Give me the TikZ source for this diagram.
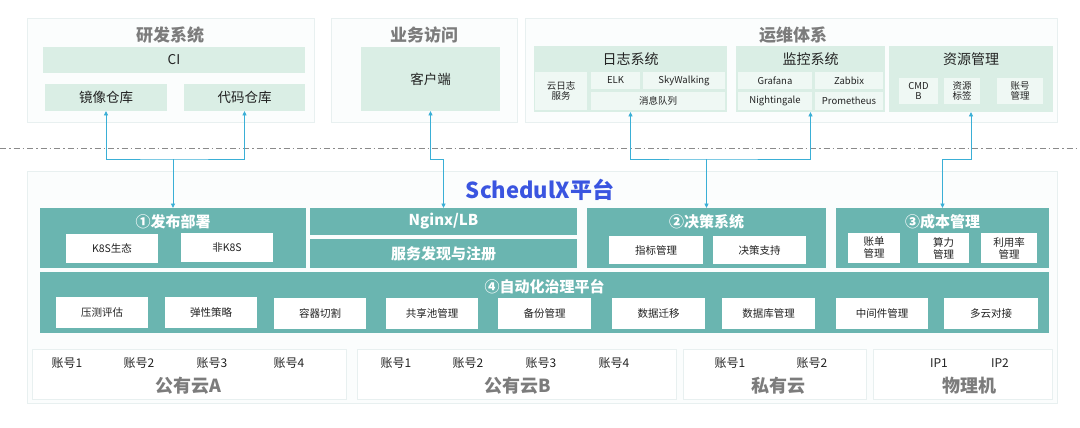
\documentclass[tikz,border=0pt]{standalone}
\usepackage{fontspec}
\setmainfont{Noto Sans CJK SC}
\usetikzlibrary{arrows.meta}
\definecolor{teal1}{HTML}{6AB5B0}
\definecolor{mint}{HTML}{DAEEE5}
\definecolor{mintl}{HTML}{EFF8F4}
\definecolor{panelf}{HTML}{FBFDFD}
\definecolor{paneld}{HTML}{E8F0F0}
\definecolor{ttlgray}{HTML}{7C7C7C}
\definecolor{sblue}{HTML}{3A55E0}
\definecolor{conncol}{HTML}{3AAFD6}
\definecolor{txt}{HTML}{222222}
\definecolor{dashcol}{HTML}{8A8A8A}
\newcommand\mybox[7]{\node[#2, minimum width=#5pt-#3pt, minimum height=#6pt-#4pt] (#1) at ({(#3+#5)/2},{(#4+#6)/2}) {#7};}
\tikzset{
  base/.style={inner sep=0pt, outer sep=0pt},
  panel/.style={base, draw=paneld, fill=panelf, line width=0.8pt},
  subpanel/.style={base, draw=paneld, fill=white, line width=0.8pt},
  mintbox/.style={base, fill=mint, text=txt, font=\fontsize{13.5}{15}\selectfont},
  subl/.style={base, fill=mintl, text=txt, align=center, font=\fontsize{9.5}{10.5}\selectfont},
  tealbox/.style={base, fill=teal1, text=white, font=\bfseries\fontsize{15}{17}\selectfont},
  whitebox/.style={base, fill=white, text=txt, align=center, font=\fontsize{10.5}{12}\selectfont},
  ptitle/.style={base, text=ttlgray, font=\bfseries\fontsize{17}{19}\selectfont},
  stitle/.style={base, text=txt, font=\fontsize{14}{16}\selectfont},
  mtitle/.style={base, text=white, font=\bfseries\fontsize{15}{17}\selectfont},
  acc/.style={base, text=txt, font=\fontsize{12}{14}\selectfont},
  cloud/.style={base, text=ttlgray, font=\bfseries\fontsize{18}{20}\selectfont},
  conn/.style={draw=conncol, line width=0.9pt},
  sep/.style={draw=dashcol, line width=1pt, dash pattern=on 6pt off 3pt on 1.5pt off 3pt},
  tri/.tip={Triangle[length=4.5pt,width=4pt]}
}
\begin{document}
\begin{tikzpicture}[x=1pt,y=-1pt]
\useasboundingbox (0,0) rectangle (1080,428);
\fill[white] (0,0) rectangle (1080,428);
% ---------- top panels
\mybox{rdp}{panel}{27}{18}{314}{122}{}
\node[ptitle] (rdt) at (170,35) {研发系统};
\mybox{ci}{mintbox}{43}{47}{305}{73}{CI}
\mybox{mirror}{mintbox}{45}{84}{167}{111}{镜像仓库}
\mybox{code}{mintbox}{184}{84}{305}{111}{代码仓库}
\mybox{bzp}{panel}{331}{18}{517}{122}{}
\node[ptitle] (bzt) at (424,35) {业务访问};
\mybox{client}{mintbox}{361}{47}{500}{111}{客户端}
\mybox{opp}{panel}{525}{18}{1057}{122}{}
\node[ptitle] (opt) at (793,35) {运维体系};
\mybox{log}{mintbox}{534}{46}{727}{112}{}
\node[stitle] (logt) at (630.5,59) {日志系统};
\mybox{cloudlog}{subl}{535}{72}{587}{110}{云日志\\服务}
\mybox{elk}{subl}{591}{72}{640}{89}{ELK}
\mybox{sky}{subl}{643}{72}{725}{89}{SkyWalking}
\mybox{mq}{subl}{591}{92}{725}{110}{消息队列}
\mybox{mon}{mintbox}{736}{46}{885}{112}{}
\node[stitle] (mont) at (810.5,59) {监控系统};
\mybox{graf}{subl}{738}{72}{812}{89}{Grafana}
\mybox{zab}{subl}{815}{72}{883}{89}{Zabbix}
\mybox{night}{subl}{738}{92}{812}{110}{Nightingale}
\mybox{prom}{subl}{815}{92}{883}{110}{Prometheus}
\mybox{res}{mintbox}{889}{46}{1053}{112}{}
\node[stitle] (rest) at (971,59) {资源管理};
\mybox{cmdb}{subl}{899}{78}{938}{104}{CMD\\B}
\mybox{tag}{subl}{944}{78}{980}{104}{资源\\标签}
\mybox{acct}{subl}{997}{78}{1043}{104}{账号\\管理}
% ---------- separator
\draw[sep] (0,148) -- (1080,148);
% ---------- platform
\mybox{plat}{panel}{27}{171}{1057}{403}{}
\node[base, text=sblue, font=\bfseries\fontsize{22}{24}\selectfont] (platt) at (540,190) {SchedulX平台};
\mybox{deploy}{tealbox}{40}{208}{306}{268}{}
\node[mtitle] (deployt) at (173,222) {①发布部署};
\mybox{k8s}{whitebox}{66}{234}{158}{263}{K8S生态}
\mybox{nonk8s}{whitebox}{181}{233}{273}{262}{非K8S}
\mybox{nginx}{tealbox}{310}{208}{577}{235}{Nginx/LB}
\mybox{svc}{tealbox}{310}{239}{577}{268}{服务发现与注册}
\mybox{dec}{tealbox}{587}{208}{826}{268}{}
\node[mtitle] (dect) at (706.5,222) {②决策系统};
\mybox{metric}{whitebox}{609}{236}{703}{264}{指标管理}
\mybox{support}{whitebox}{713}{236}{806}{264}{决策支持}
\mybox{cost}{tealbox}{836}{208}{1049}{268}{}
\node[mtitle] (costt) at (942.5,222) {③成本管理};
\mybox{bill}{whitebox}{848}{233}{900}{263}{账单\\管理}
\mybox{comp}{whitebox}{918}{233}{969}{263}{算力\\管理}
\mybox{util}{whitebox}{981}{233}{1037}{263}{利用率\\管理}
\mybox{auto}{tealbox}{40}{272}{1049}{333}{}
\node[mtitle] (autot) at (544.5,287) {④自动化治理平台};
\mybox{a1}{whitebox}{56}{297}{148}{328}{压测评估}
\mybox{a2}{whitebox}{165}{297}{257}{328}{弹性策略}
\mybox{a3}{whitebox}{274}{298}{366}{329}{容器切割}
\mybox{a4}{whitebox}{386}{298}{478}{329}{共享池管理}
\mybox{a5}{whitebox}{498}{298}{591}{329}{备份管理}
\mybox{a6}{whitebox}{612}{298}{705}{329}{数据迁移}
\mybox{a7}{whitebox}{722}{298}{815}{329}{数据库管理}
\mybox{a8}{whitebox}{836}{298}{928}{329}{中间件管理}
\mybox{a9}{whitebox}{944}{298}{1038}{329}{多云对接}
% ---------- bottom resources
\mybox{pa}{subpanel}{32}{349}{346}{399}{}
\mybox{pb}{subpanel}{357}{349}{676}{399}{}
\mybox{pp}{subpanel}{683}{349}{866}{399}{}
\mybox{ph}{subpanel}{873}{349}{1052}{399}{}
\node[acc] (pa1) at (67,363) {账号1};
\node[acc] (pa2) at (139,363) {账号2};
\node[acc] (pa3) at (212,363) {账号3};
\node[acc] (pa4) at (289,363) {账号4};
\node[cloud] (pat) at (188,386) {公有云A};
\node[acc] (pb1) at (396,363) {账号1};
\node[acc] (pb2) at (468,363) {账号2};
\node[acc] (pb3) at (541,363) {账号3};
\node[acc] (pb4) at (614,363) {账号4};
\node[cloud] (pbt) at (518,386) {公有云B};
\node[acc] (pp1) at (730,363) {账号1};
\node[acc] (pp2) at (812,363) {账号2};
\node[cloud] (ppt) at (778,386) {私有云};
\node[acc] (ph1) at (939,363) {IP1};
\node[acc] (ph2) at (1000,363) {IP2};
\node[cloud] (pht) at (969,386) {物理机};
% ---------- connectors
\coordinate (jA) at (173,159);
\coordinate (jB) at (443.5,159);
\coordinate (jC) at (706.5,159);
\coordinate (jD) at (942.5,159);
\draw[conn,{tri}-{tri}] (mirror.south) |- (jA) -| (code.south);
\draw[conn,-{tri}] (jA) -- (deploy.north);
\draw[conn,{tri}-{tri}] (client.south) |- (jB) -- (nginx.north);
\draw[conn,{tri}-{tri}] (log.south) |- (jC) -| (mon.south);
\draw[conn,-{tri}] (jC) -- (dec.north);
\draw[conn,{tri}-{tri}] (res.south) |- (jD) -- (cost.north);
\end{tikzpicture}
\end{document}
